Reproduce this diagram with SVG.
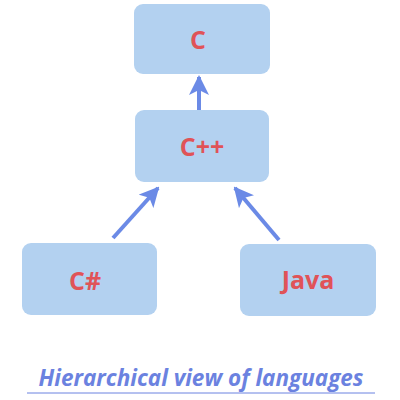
<svg xmlns="http://www.w3.org/2000/svg" width="400" height="400" viewBox="0 0 400 400">
<defs>
<style>
.box{fill:#b3d1f0;}
.lbl{font-family:"Open Sans","DejaVu Sans",sans-serif;font-weight:bold;font-size:25px;fill:#e05358;text-anchor:middle;}
.edge{stroke:#6b8ae6;stroke-width:4;fill:none;marker-end:url(#ah);}
.title{font-family:"Open Sans","DejaVu Sans",sans-serif;font-weight:bold;font-style:italic;font-size:22.5px;fill:#6b82e0;text-anchor:middle;}
</style>
<marker id="ah" viewBox="0 0 10 10" refX="9" refY="5" markerWidth="5" markerHeight="5" orient="auto" markerUnits="strokeWidth">
<path d="M0,0 L10,5 L0,10 L2.5,5 Z" fill="#6b8ae6"/>
</marker>
</defs>
<rect width="400" height="400" fill="#ffffff"/>
<g id="connectors">
<line class="edge" x1="199" y1="110" x2="199" y2="77"/>
<line class="edge" x1="113" y1="238" x2="158" y2="188"/>
<line class="edge" x1="279" y1="240" x2="235" y2="188"/>
</g>
<g id="node-c">
<rect class="box" x="134" y="4" width="136" height="70" rx="9"/>
<text class="lbl" x="198" y="49">C</text>
</g>
<g id="node-cpp">
<rect class="box" x="135" y="110" width="134" height="72" rx="9"/>
<text class="lbl" x="202" y="156">C++</text>
</g>
<g id="node-csharp">
<rect class="box" x="22" y="243" width="135" height="72" rx="9"/>
<text class="lbl" x="85" y="290">C#</text>
</g>
<g id="node-java">
<rect class="box" x="240" y="244" width="136" height="72" rx="9"/>
<text class="lbl" x="308" y="289">Java</text>
</g>
<g id="caption">
<text class="title" x="201" y="386">Hierarchical view of languages</text>
<line x1="27" y1="393" x2="375" y2="393" stroke="#6b82e0" stroke-width="1"/>
</g>
</svg>
